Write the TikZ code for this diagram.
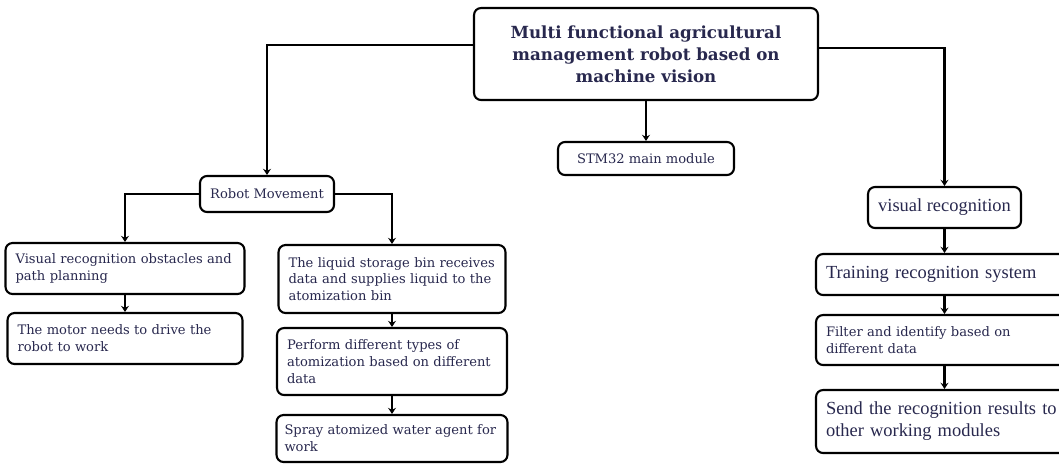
\documentclass[tikz,border=0pt]{standalone}
\usepackage{fontspec}
\setmainfont{DejaVu Serif}
\newfontfamily\timesfont{Liberation Serif}
\usetikzlibrary{arrows.meta, positioning, calc}
\definecolor{inkblue}{RGB}{40,40,78}

\begin{document}
\begin{tikzpicture}[
    x=0.02cm, y=-0.02cm,
    >={Stealth[length=3.5pt, width=4.5pt]},
    box/.style={draw, rounded corners=4pt, line width=1.2pt, fill=white, text=inkblue, inner xsep=0.2cm, inner ysep=0pt, align=left, font=\fontsize{7.45}{9.6}\selectfont},
    title_box/.style={box, align=center, font=\fontsize{9.5}{12.5}\selectfont\bfseries},
    times_box/.style={box, font=\timesfont\fontsize{10.5}{12.5}\selectfont},
    link/.style={->, line width=1.2pt}
]

\useasboundingbox (0,0) rectangle (1059,464);

% TITLE
\node[title_box, minimum width=6.88cm, minimum height=1.84cm] (title) at (646,54) {Multi functional agricultural\\management robot based on\\machine vision};

% MAIN MODULE
\node[box, align=center, minimum width=3.52cm, minimum height=0.66cm] (stm) at (646,158.5) {STM32 main module};

% ROBOT MOVEMENT BRANCH
\node[box, align=center, minimum width=2.68cm, minimum height=0.72cm] (move) at (267,194) {Robot Movement};

\node[box, text width=4.38cm, minimum height=1.02cm] (obst) at (125,268.5) {Visual recognition obstacles and\\path planning};
\node[box, text width=4.3cm, minimum height=1.02cm] (motor) at (125,338.5) {The motor needs to drive the\\robot to work};

\node[box, text width=4.14cm, minimum height=1.36cm] (liquid) at (392,279) {The liquid storage bin receives\\data and supplies liquid to the\\atomization bin};
\node[box, text width=4.2cm, minimum height=1.34cm] (atom) at (392,361.5) {Perform different types of\\atomization based on different\\data};
\node[box, inner xsep=0.16cm, text width=4.3cm, minimum height=0.94cm] (spray) at (392,438.5) {Spray atomized water agent for\\work};

% VISUAL RECOGNITION BRANCH
\node[times_box, align=center, minimum width=3.06cm, minimum height=0.82cm] (visrec) at (944.5,207.5) {visual recognition};
\node[times_box, text width=4.9cm, minimum height=0.82cm] (train) at (948.5,274.5) {Training recognition system};
\node[box, text width=4.9cm, minimum height=1.0cm] (filter) at (948.5,340) {Filter and identify based on\\different data};
\node[times_box, text width=4.9cm, minimum height=1.26cm] (send) at (948.5,421.5) {Send the recognition results to\\other working modules};

% CONNECTORS
\draw[link] (title.177.7) -| (move.north);
\draw[link] (title.2.3) -| (visrec.north);
\draw[link] (title.south) -- (stm.north);

\draw[link] (move.west) -| (obst.north);
\draw[link] (move.east) -| (liquid.north);
\draw[link] (obst.south) -- (motor.north);
\draw[link] (liquid.south) -- (atom.north);
\draw[link] (atom.south) -- (spray.north);

\draw[link] (visrec.south) -- (visrec.south |- train.north);
\draw[link] (visrec.south |- train.south) -- (visrec.south |- filter.north);
\draw[link] (visrec.south |- filter.south) -- (visrec.south |- send.north);

\end{tikzpicture}
\end{document}
